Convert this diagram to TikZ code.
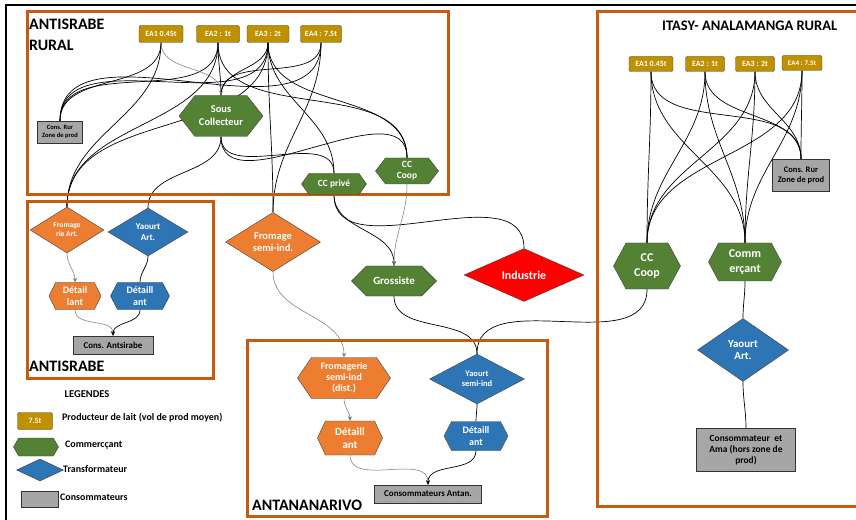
\documentclass[tikz,border=0pt]{standalone}
\usepackage{fontspec}
\setmainfont{Carlito}
\usetikzlibrary{shapes.geometric,shapes.symbols,arrows.meta,backgrounds}

\definecolor{regorange}{HTML}{C55A11}
\definecolor{prodgold}{HTML}{BF9000}
\definecolor{commgreen}{HTML}{548235}
\definecolor{fromorange}{HTML}{ED7D31}
\definecolor{transblue}{HTML}{2E75B6}
\definecolor{consgray}{HTML}{A6A6A6}

\tikzset{
  sz/.style 2 args={minimum width=#1bp, minimum height=#2bp},
  fs/.style 2 args={font=\bfseries\fontsize{#1}{#2}\selectfont},
  zone/.style={draw=regorange, line width=3bp},
  ztitle/.style={inner sep=0pt, fs={16}{21}},
  prod/.style={draw=black!75, fill=prodgold, rounded corners=2bp, text=white, inner sep=0pt,
    fs={8}{9}, sz={44}{17}},
  hexa/.style={signal, signal to=west and east, signal pointer angle=110, draw=black!75,
    text=white, align=center, inner sep=0pt, fs={10}{11.5}},
  comm/.style={hexa, fill=commgreen},
  fromdt/.style={hexa, fill=fromorange},
  yaodt/.style={hexa, fill=transblue},
  trans/.style={diamond, draw=black!75, text=white, align=center, inner sep=0pt, fs={10}{11.5}},
  fromtr/.style={trans, fill=fromorange},
  yaotr/.style={trans, fill=transblue},
  cons/.style={rectangle, draw=black!80, fill=consgray, align=center, inner sep=0pt, fs={9}{10.5}},
  lgtext/.style={anchor=west, inner sep=0pt, fs={10}{11}},
  flow/.style={black, line width=0.7bp},
  fflow/.style={black!55, line width=0.5bp},
  arrowend/.style={-{Stealth[length=4.5bp,width=4bp]}},
}

\begin{document}
\begin{tikzpicture}[x=1bp, y=1bp]
\useasboundingbox (0,0) rectangle (856,-520);
\draw[line width=2bp] (6,-525) -- (6,-5) -- (870,-5);

% zones
\draw[zone] (27,-12) rectangle (448,-195);
\draw[zone] (27,-202) rectangle (213,-378);
\draw[zone] (247,-340) rectangle (547,-516);
\draw[zone] (597,-12) rectangle (870,-506);
\node[ztitle, anchor=north west, align=left] (tRural) at (29,-18.5) {ANTISRABE\\RURAL};
\node[ztitle, anchor=base west] (tAnts) at (29,-371) {ANTISRABE};
\node[ztitle, anchor=base west] (tTana) at (252,-510) {ANTANANARIVO};
\node[ztitle, anchor=base west, fs={14.6}{18}] (tItasy) at (662,-31) {ITASY- ANALAMANGA RURAL};

% Antsirabe rural
\node[prod] (ea1a) at (161,-34) {EA1 0.45t};
\node[prod, minimum width=43bp] (ea2a) at (218,-34) {EA2 : 1t};
\node[prod, minimum width=42bp] (ea3a) at (268,-34) {EA3 : 2t};
\node[prod, minimum width=41bp] (ea4a) at (321,-34) {EA4 : 7.5t};
\node[cons, sz={45}{22}, fs={6.5}{7.5}] (consA) at (60,-132) {Cons. Rur\\Zone de prod};
\node[comm, sz={84}{41}, fs={10.5}{13}, signal pointer angle=104] (sc) at (221,-116) {Sous\\Collecteur};
\node[comm, sz={65}{21}, fs={9.5}{11}, signal pointer angle=109] (ccpA) at (334,-184) {CC privé};
\node[comm, sz={63}{26}, fs={9.5}{11}, signal pointer angle=105] (cccA) at (407,-171) {CC\\Coop};

% Antsirabe
\node[fromtr, sz={74}{46}, fs={7.5}{9}] (frA) at (67,-230) {Fromage\\rie Art.};
\node[yaotr, sz={80}{48}, fs={9}{10.5}] (yaA) at (148,-232) {Yaourt\\Art.};
\node[fromdt, sz={52}{27}, signal pointer angle=128] (dlA) at (75,-296) {Détail\\lant};
\node[yaodt, sz={59}{27}, signal pointer angle=125] (daA) at (140,-296) {Détaill\\ant};
\node[cons, sz={80}{18}] (cA) at (113,-345) {Cons. Antsirabe};

% hors zones
\node[fromtr, sz={95}{55}, fs={10.5}{12}] (frS) at (273,-242) {Fromage\\semi-ind.};
\node[comm, sz={85}{30}, fs={11}{12}, signal pointer angle=90] (gro) at (394,-281) {Grossiste};
\node[trans, fill=red, sz={120}{42}, fs={12}{13}] (ind) at (524,-275) {Industrie};

% Antananarivo
\node[fromdt, sz={93}{41}, fs={10}{11}, signal pointer angle=111] (frSI) at (344,-378) {Fromagerie\\semi-ind\\(dist.)};
\node[yaotr, sz={95}{50}, fs={8.5}{10}] (ysi) at (477,-379) {Yaourt\\semi-ind};
\node[fromdt, sz={65}{34}, fs={11}{13}, signal pointer angle=130] (dlT) at (350,-438) {Détaill\\ant};
\node[yaodt, sz={64}{29}, signal pointer angle=125] (daT) at (476,-436) {Détaill\\ant};
\node[cons, sz={107}{18}] (cT) at (428,-494) {Consommateurs Antan.};

% Itasy - Analamanga rural
\node[prod, sz={44}{15}] (ea1i) at (651,-64) {EA1 0.45t};
\node[prod, sz={39}{15}] (ea2i) at (705,-64) {EA2 : 1t};
\node[prod, sz={39}{15}] (ea3i) at (755,-64) {EA3 : 2t};
\node[prod, sz={40}{15}, fs={7}{8}] (ea4i) at (802,-63) {EA4 : 7.5t};
\node[cons, sz={57}{32}, fs={8.5}{10}] (consI) at (801,-175) {Cons. Rur\\Zone de prod};
\node[comm, sz={67}{46}, fs={12}{15}, signal pointer angle=123] (cccI) at (647,-266) {CC\\Coop};
\node[comm, sz={73}{38}, fs={12}{15}, signal pointer angle=124] (comI) at (745,-262) {Comm\\erçant};
\node[yaotr, sz={91}{63}, fs={11}{12.5}] (yaI) at (743,-350) {Yaourt\\Art.};
\node[cons, sz={99}{43}, fs={9.5}{11}] (camI) at (746,-450) {Consommateur~ et\\Ama (hors zone de\\prod)};

% legendes
\node[fs={10.5}{12}] (lgTitle) at (87,-394) {LEGENDES};
\node[prod, sz={35}{17}] (lgProd) at (35,-421) {7.5t};
\node[lgtext] (lgProdT) at (62,-418) {Producteur de lait (vol de prod moyen)};
\node[comm, sz={45}{18}, signal pointer angle=120] (lgComm) at (36,-447) {};
\node[lgtext] (lgCommT) at (65,-445) {Commercçant};
\node[yaotr, sz={47}{22}] (lgTrans) at (40,-470) {};
\node[lgtext] (lgTransT) at (63,-469) {Transformateur};
\node[cons, sz={37}{16}] (lgCons) at (40,-499) {};
\node[lgtext] (lgConsT) at (60,-497) {Consommateurs};

\begin{pgfonlayer}{background}
\fill[white] (0,0) rectangle (856,-520);
% producteurs Antsirabe rural
\foreach \ea in {ea1a,ea2a,ea3a,ea4a}
  \draw[flow] (\ea.south) to[out=-90,in=90] (consA.north);
\foreach \ea in {ea2a,ea3a,ea4a}
  \draw[flow] (\ea.south) to[out=-90,in=90] (sc.north);
\draw[fflow, arrowend] (ea1a.south) to[out=-90,in=90] (sc.north);
\foreach \ea in {ea1a,ea2a,ea3a}
  \draw[flow] (\ea.south) to[out=-90,in=90] (frA.north);
\foreach \ea in {ea3a,ea4a}
  \draw[flow] (\ea.south) to[out=-90,in=90] (frS.north);
\draw[flow] (ea3a.south) to[out=-90,in=90] (ccpA.north);
\foreach \ea in {ea2a,ea3a}
  \draw[flow] (\ea.south) to[out=-90,in=90] (cccA.north);
\foreach \c in {yaA,ccpA,cccA}
  \draw[flow] (sc.south) to[out=-90,in=90] (\c.north);
% Antsirabe
\draw[fflow, arrowend] (frA.south) to[out=-90,in=90] (dlA.north);
\draw[flow] (yaA.south) to[out=-90,in=90] (daA.north);
\draw[fflow, arrowend] (dlA.south) to[out=-90,in=90] (cA.north);
\draw[flow, arrowend] (daA.south) to[out=-90,in=90] (cA.north);
% vers Antananarivo
\draw[fflow, arrowend] (frS.south) to[out=-90,in=90] (frSI.north);
\draw[flow, arrowend] (ccpA.south) to[out=-90,in=90] (gro.north);
\draw[flow] (ccpA.south) to[out=-90,in=90] (ind.north);
\draw[fflow, arrowend] (cccA.south) to[out=-90,in=90] (gro.north);
\draw[flow] (gro.south) to[out=-90,in=90] (ysi.north);
\draw[flow] (cccI.south) to[out=-90,in=90] (ysi.north);
% Antananarivo
\draw[fflow, arrowend] (frSI.south) to[out=-90,in=90] (dlT.north);
\draw[flow] (ysi.south) to[out=-90,in=90] (daT.north);
\draw[fflow, arrowend] (dlT.south) to[out=-90,in=90] (cT.north);
\draw[flow, arrowend] (daT.south) to[out=-90,in=90] (cT.north);
% Itasy
\foreach \ea in {ea1i,ea2i,ea3i,ea4i}
  \foreach \c in {cccI,comI,consI}
    \draw[flow] (\ea.south) to[out=-90,in=90] (\c.north);
\draw[flow] (comI.south) to[out=-90,in=90] (yaI.north);
\draw[flow] (yaI.south) to[out=-90,in=90] (camI.north);
\end{pgfonlayer}
\end{tikzpicture}
\end{document}
